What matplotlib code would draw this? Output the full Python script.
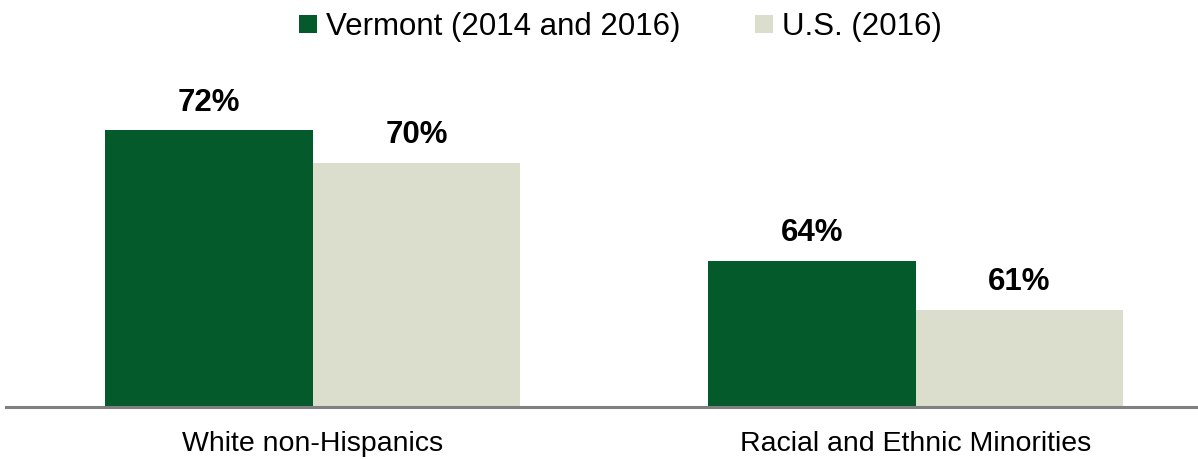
import numpy as np
import matplotlib.pyplot as plt

# Данные
categories = ['White non-Hispanics', 'Racial and Ethnic Minorities']
vermont = [72, 64]
us = [70, 61]
series_names = ['Vermont (2014 and 2016)', 'U.S. (2016)']

plt.rcParams['font.family'] = ['Liberation Sans', 'DejaVu Sans']

fig = plt.figure(figsize=(11.98, 4.59), dpi=100)
ax = fig.add_axes([0.005, 1 - 407 / 459, 0.995, (407 - 80) / 459])

x = np.arange(len(categories))
w = 0.344
green = '#045a2b'
light = '#dbdecd'

b1 = ax.bar(x - w / 2, vermont, w, color=green, label=series_names[0])
b2 = ax.bar(x + w / 2, us, w, color=light, label=series_names[1])

for bars in (b1, b2):
    for rect in bars:
        h = rect.get_height()
        ax.annotate(f'{h:.0f}%', (rect.get_x() + rect.get_width() / 2, h),
                    xytext=(0, 9), textcoords='offset points',
                    ha='center', va='bottom', fontsize=22.5, fontweight='bold')

ax.set_ylim(55.07, 75.06)
ax.set_xlim(-0.509, 1.468)
ax.set_xticks(x)
ax.set_xticklabels(categories, fontsize=20.5)
ax.tick_params(axis='x', length=0, pad=17)
ax.set_yticks([])
for s in ['top', 'right', 'left']:
    ax.spines[s].set_visible(False)
ax.spines['bottom'].set_color('#808080')
ax.spines['bottom'].set_linewidth(2.2)

fig.legend(loc='center', bbox_to_anchor=(0.518, 1 - 27 / 459), ncol=2, frameon=False,
           fontsize=22.5, handlelength=0.55, handleheight=0.55, handletextpad=0.3,
           columnspacing=2.4)

plt.savefig('out.png', dpi=100)
